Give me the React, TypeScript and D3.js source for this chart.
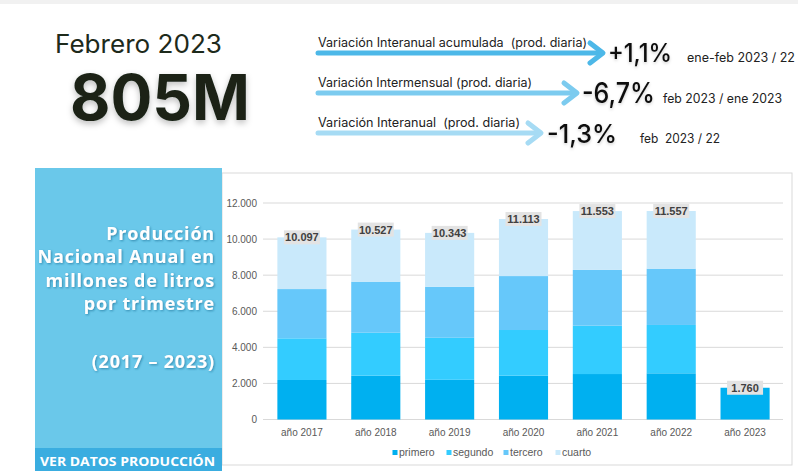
import React from "react";
import * as d3 from "d3";

const years = ["año 2017", "año 2018", "año 2019", "año 2020", "año 2021", "año 2022", "año 2023"];
const primero = [2190, 2430, 2200, 2430, 2520, 2560, 1760];
const segundo = [2310, 2380, 2330, 2530, 2680, 2680, 0];
const tercero = [2730, 2830, 2830, 2990, 3090, 3120, 0];
const cuarto = [2867, 2887, 2983, 3163, 3263, 3197, 0];
const totals = ["10.097", "10.527", "10.343", "11.113", "11.553", "11.557", "1.760"];
const totalValues = [10097, 10527, 10343, 11113, 11553, 11557, 1760];
const yTicks = [0, 2000, 4000, 6000, 8000, 10000, 12000];
const seriesKeys = ["primero", "segundo", "tercero", "cuarto"];
const seriesColors = ["#00b0f0", "#33ccff", "#66c8fa", "#c9e9fb"];

const variationLabels = [
  "Variación Interanual acumulada  (prod. diaria)",
  "Variación Intermensual (prod. diaria)",
  "Variación Interanual  (prod. diaria)",
];
const variationValues = ["+1,1%", "-6,7%", "-1,3%"];
const variationPeriods = ["ene-feb 2023 / 22", "feb 2023 / ene 2023", "feb  2023 / 22"];

export default function App() {
  const x = d3.scaleBand<string>().domain(years).range([265, 782]).paddingInner(0.335).paddingOuter(0.1675);
  const y = d3.scaleLinear().domain([0, 12000]).range([419.5, 203]);
  const rows = years.map((yr, i) => ({
    year: yr,
    primero: primero[i],
    segundo: segundo[i],
    tercero: tercero[i],
    cuarto: cuarto[i],
  }));
  const stacked = d3.stack<any>().keys(seriesKeys)(rows);
  const fmt = (v: number) => (v === 0 ? "0" : d3.format(",")(v).replace(/,/g, "."));

  const arrowY = [53, 93, 133];
  const arrowEnd = [603, 577, 541];
  const arrowColors = ["#4db8e8", "#7ccbef", "#a6dbf4"];
  const labelLen = [269, 214, 202];
  const valueX = [608, 582, 547];
  const valueLen = [64, 73, 70];
  const valueSize = [25, 28, 26];
  const valueBase = [62, 103, 143];
  const periodX = [687, 663, 640];
  const periodLen = [108, 119, 80];

  const legendX = [395, 449, 506, 558];
  const sans = "Inter, 'Open Sans', sans-serif";

  return (
    <svg width={798} height={471} style={{ position: "absolute", left: 0, top: 0, background: "#fff" }}>
      <defs>
        <filter id="sh" x="-10%" y="-10%" width="120%" height="130%">
          <feDropShadow dx="0" dy="3" stdDeviation="3" floodColor="#000" floodOpacity="0.25" />
        </filter>
        <filter id="tsh" x="-10%" y="-20%" width="120%" height="140%">
          <feDropShadow dx="1" dy="1" stdDeviation="0.8" floodColor="#1d6f96" floodOpacity="0.7" />
        </filter>
        <filter id="lsh" x="-10%" y="-20%" width="120%" height="140%">
          <feDropShadow dx="0" dy="1.5" stdDeviation="1.5" floodColor="#000" floodOpacity="0.2" />
        </filter>
      </defs>
      <rect x={0} y={0} width={798} height={4} fill="#f1f1f1" />

      {/* header */}
      <text x={55} y={53} fontFamily={sans} fontSize={25} fill="#1d2a1b" textLength={167} lengthAdjust="spacingAndGlyphs">
        Febrero 2023
      </text>
      <text x={70} y={120} fontFamily={sans} fontSize={63} fontWeight={700} fill="#1a2418" filter="url(#sh)" textLength={180} lengthAdjust="spacingAndGlyphs">
        805M
      </text>

      {variationLabels.map((lab, i) => (
        <g key={lab}>
          <text x={318} y={arrowY[i] - 6} fontFamily={sans} fontSize={12.5} fill="#222" style={{ whiteSpace: "pre" }} textLength={labelLen[i]} lengthAdjust="spacingAndGlyphs">
            {lab}
          </text>
          <line x1={318} x2={arrowEnd[i] - 3} y1={arrowY[i]} y2={arrowY[i]} stroke={arrowColors[i]} strokeWidth={5} strokeLinecap="round" />
          <polyline
            points={`${arrowEnd[i] - 13},${arrowY[i] - 10} ${arrowEnd[i]},${arrowY[i]} ${arrowEnd[i] - 13},${arrowY[i] + 10}`}
            fill="none"
            stroke={arrowColors[i]}
            strokeWidth={5}
            strokeLinecap="round"
            strokeLinejoin="round"
          />
          <text x={valueX[i]} y={valueBase[i]} fontFamily={sans} fontSize={valueSize[i]} fontWeight={500} fill="#111" filter="url(#lsh)" textLength={valueLen[i]} lengthAdjust="spacingAndGlyphs">
            {variationValues[i]}
          </text>
          <text x={periodX[i]} y={valueBase[i]} fontFamily={sans} fontSize={12.5} fill="#222" style={{ whiteSpace: "pre" }} textLength={periodLen[i]} lengthAdjust="spacingAndGlyphs">
            {variationPeriods[i]}
          </text>
        </g>
      ))}

      {/* chart frame */}
      <rect x={222} y={173} width={570} height={292} fill="#fff" stroke="#d9d9d9" strokeWidth={1} />

      {/* left panel */}
      <rect x={35} y={168} width={187} height={303} fill="#6ac8ea" />
      <rect x={35} y={448} width={187} height={23} fill="#3aade0" />
      <g fontFamily="'Open Sans', Lato, sans-serif" fontSize={18} fontWeight={700} fill="#fff" textAnchor="end" filter="url(#tsh)" letterSpacing={0.8}>
        <text x={215} y={240}>Producción</text>
        <text x={215} y={263}>Nacional Anual en</text>
        <text x={215} y={287}>millones de litros</text>
        <text x={215} y={310}>por trimestre</text>
        <text x={215} y={368}>(2017 – 2023)</text>
      </g>
      <text x={40} y={466} fontFamily="'Open Sans', Lato, sans-serif" fontSize={13} fontWeight={700} fill="#fff" textLength={175} lengthAdjust="spacingAndGlyphs">
        VER DATOS PRODUCCIÓN
      </text>

      {/* gridlines and y axis */}
      {yTicks.map((t) => (
        <g key={t}>
          <line x1={263} x2={783} y1={y(t)} y2={y(t)} stroke="#d9d9d9" strokeWidth={1} />
          <text x={257} y={y(t) + 3.5} textAnchor="end" fontFamily="'Liberation Sans', Arial, sans-serif" fontSize={10} fill="#595959">
            {fmt(t)}
          </text>
        </g>
      ))}

      {/* bars */}
      {stacked.map((s, si) => (
        <g key={s.key} fill={seriesColors[si]}>
          {s.map((d, i) =>
            d[1] - d[0] > 0 ? (
              <rect key={i} x={x(years[i])} width={x.bandwidth()} y={y(d[1])} height={y(d[0]) - y(d[1])} />
            ) : null
          )}
        </g>
      ))}

      {/* total labels */}
      {years.map((yr, i) => {
        const cx = (x(yr) as number) + x.bandwidth() / 2;
        const cy = y(totalValues[i]);
        return (
          <g key={yr}>
            <rect x={cx - 18} y={cy - 7} width={36} height={14} fill="#e3e3e3" />
            <text x={cx} y={cy + 4} textAnchor="middle" fontFamily="'Liberation Sans', Arial, sans-serif" fontSize={11} fontWeight={700} fill="#404040">
              {totals[i]}
            </text>
          </g>
        );
      })}

      {/* x labels */}
      {years.map((yr) => (
        <text key={yr} x={(x(yr) as number) + x.bandwidth() / 2} y={436} textAnchor="middle" fontFamily="'Liberation Sans', Arial, sans-serif" fontSize={10} fill="#595959">
          {yr}
        </text>
      ))}

      {/* legend */}
      {seriesKeys.map((k, i) => (
        <g key={k}>
          <rect x={legendX[i] - 2.5} y={450} width={5} height={5} fill={seriesColors[i]} />
          <text x={legendX[i] + 4} y={456} fontFamily="'Liberation Sans', Arial, sans-serif" fontSize={10.5} fill="#595959">
            {k}
          </text>
        </g>
      ))}
    </svg>
  );
}
